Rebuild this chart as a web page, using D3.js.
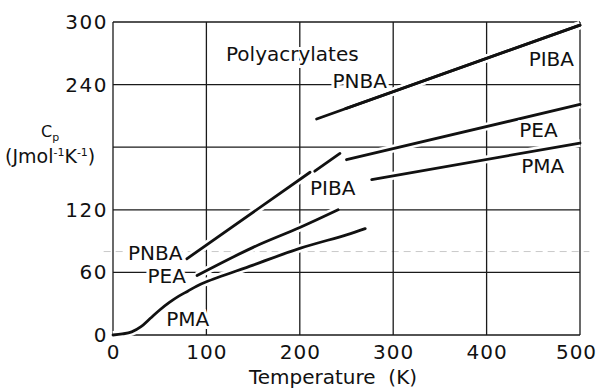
<!DOCTYPE html>
<html>
<head>
<meta charset="utf-8">
<script src="https://cdn.jsdelivr.net/npm/d3@7"></script>
<style>
body { margin: 0; background: #fff; }
text { font-family: "DejaVu Sans", sans-serif; fill: #111; }
</style>
</head>
<body>
<svg width="600" height="390"></svg>
<script>
// tick values
var xTicks = [0, 100, 200, 300, 400, 500];
var yTicks = [0, 60, 120, 240, 300];
var xGrid = [100, 200, 300, 400, 500];
var yGrid = [60, 120, 180, 240, 300];

// heat capacity curves, [T (K), Cp (J/mol/K)]
var pmaLow = [[0, 0], [10, 1], [20, 3], [30, 8], [40, 16], [50, 24], [60, 31], [70, 37], [80, 42], [90, 47], [100, 51], [150, 67], [200, 83], [250, 96], [270, 102]];
var pmaHigh = [[277, 149], [500, 184]];
var peaLow = [[90, 57], [150, 84], [200, 103], [241, 120]];
var peaHigh = [[250, 168], [500, 221]];
var pnbaLow = [[79, 73], [211, 156]];
var pibaLow = [[216, 157], [243, 174]];
var pnbaHigh = [[218, 207], [500, 297]];
var pibaHigh = [[249, 217], [500, 297]];

var curves = [pmaLow, pmaHigh, peaLow, peaHigh, pnbaLow, pibaLow, pnbaHigh, pibaHigh];

// curve names and where they sit (T, Cp of the text baseline start)
var labelText = ["PNBA", "PIBA", "PEA", "PMA", "PIBA", "PNBA", "PEA", "PMA"];
var labelT = [235, 445, 435, 437, 211, 16, 37, 57];
var labelCp = [237, 258, 190, 155, 134, 72, 50, 9];

var svg = d3.select("svg");

var x = d3.scaleLinear().domain([0, 500]).range([113, 580]);
var y = d3.scaleLinear().domain([0, 300]).range([335, 22]);

// faint scan line
svg.append("line")
    .attr("x1", x(-10)).attr("x2", x(510))
    .attr("y1", y(80)).attr("y2", y(80))
    .attr("stroke", "#bbb").attr("stroke-width", 0.8)
    .attr("stroke-dasharray", "7,5");

// grid + frame
var grid = svg.append("g").attr("stroke", "#1a1a1a").attr("stroke-width", 1.3);
grid.selectAll(".gx").data([0].concat(xGrid)).join("line")
    .attr("x1", d => x(d)).attr("x2", d => x(d))
    .attr("y1", y(0)).attr("y2", y(300));
grid.selectAll(".gy").data([0].concat(yGrid)).join("line")
    .attr("x1", x(0)).attr("x2", x(500))
    .attr("y1", d => y(d)).attr("y2", d => y(d));

var line = d3.line().x(d => x(d[0])).y(d => y(d[1])).curve(d3.curveCatmullRom.alpha(0.5));

// white halos break the grid around the curves
svg.selectAll(".halo").data(curves).join("path")
    .attr("d", line)
    .attr("fill", "none").attr("stroke", "#fff").attr("stroke-width", 8);

svg.selectAll(".curve").data(curves).join("path")
    .attr("d", line)
    .attr("fill", "none").attr("stroke", "#111")
    .attr("stroke-width", 2.8).attr("stroke-linecap", "round");

// curve labels
svg.selectAll(".lab").data(labelText).join("text")
    .attr("x", (d, i) => x(labelT[i]))
    .attr("y", (d, i) => y(labelCp[i]))
    .attr("font-size", 20)
    .attr("stroke", "#fff").attr("stroke-width", 6)
    .attr("paint-order", "stroke")
    .text(d => d);

svg.append("text")
    .attr("x", x(121)).attr("y", y(263))
    .attr("font-size", 20)
    .attr("stroke", "#fff").attr("stroke-width", 6)
    .attr("paint-order", "stroke")
    .text("Polyacrylates");

// axes: labels only
var xAxis = svg.append("g")
    .attr("transform", "translate(0," + y(0) + ")")
    .call(d3.axisBottom(x).tickValues(xTicks).tickSize(0).tickPadding(10));
xAxis.select(".domain").remove();
xAxis.selectAll("text")
    .attr("font-size", 20).attr("letter-spacing", 1)
    .attr("font-family", "DejaVu Sans").attr("fill", "#111")
    .attr("dx", d => d === 500 ? -4 : 0);

var yAxis = svg.append("g")
    .attr("transform", "translate(" + x(0) + ",0)")
    .call(d3.axisLeft(y).tickValues(yTicks).tickSize(0).tickPadding(5));
yAxis.select(".domain").remove();
yAxis.selectAll("text")
    .attr("font-size", 20).attr("letter-spacing", 1.5)
    .attr("font-family", "DejaVu Sans").attr("fill", "#111");

// axis titles
svg.append("text")
    .attr("x", 333).attr("y", 384)
    .attr("text-anchor", "middle")
    .attr("font-size", 20)
    .style("white-space", "pre")
    .text("Temperature  (K)");

var cp = svg.append("text").attr("x", 41).attr("y", 137).attr("font-size", 16);
cp.append("tspan").text("C");
cp.append("tspan").attr("dy", 4).attr("font-size", 11).text("p");

var unit = svg.append("text").attr("x", 5).attr("y", 163).attr("font-size", 19);
unit.append("tspan").text("(Jmol");
unit.append("tspan").attr("dy", -7).attr("font-size", 11).text("-1");
unit.append("tspan").attr("dy", 7).text("K");
unit.append("tspan").attr("dy", -7).attr("font-size", 11).text("-1");
unit.append("tspan").attr("dy", 7).text(")");
</script>
</body>
</html>
